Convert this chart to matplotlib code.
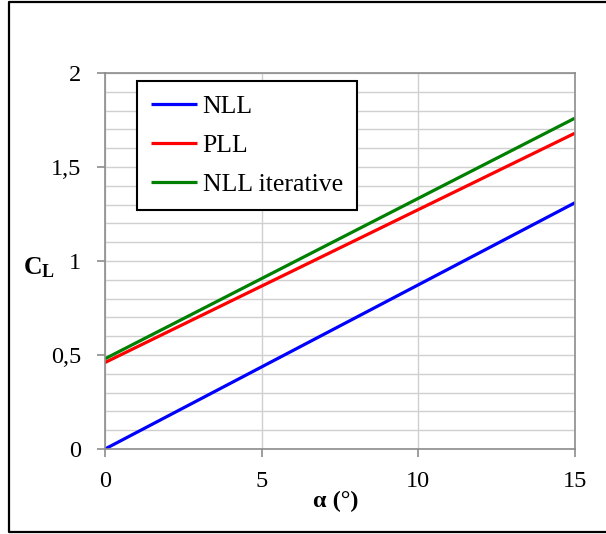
import numpy as np
import matplotlib
matplotlib.use("Agg")
import matplotlib.pyplot as plt
from matplotlib.lines import Line2D
from matplotlib.ticker import MultipleLocator, FuncFormatter

# angle of attack (deg) and lift coefficient at the ends of each line
alpha = [0, 15]
cl_nll = [0.0, 1.31]
cl_pll = [0.46, 1.68]
cl_nll_iter = [0.48, 1.76]

series = [
    ("NLL", cl_nll, "#0000ff"),
    ("PLL", cl_pll, "#ff0000"),
    ("NLL iterative", cl_nll_iter, "#008000"),
]

plt.rcParams["font.family"] = ["Liberation Serif", "DejaVu Serif"]
plt.rcParams["mathtext.fontset"] = "custom"
plt.rcParams["mathtext.rm"] = "Liberation Serif"
plt.rcParams["mathtext.bf"] = "Liberation Serif:bold"

FS = 17.5
LEG_FS = 18.5

W, H = 606, 534
fig = plt.figure(figsize=(W / 100, H / 100), dpi=100)

# outer frame (left, top and bottom edges)
fx = [W + 5, 8.5, 8.5, W + 5]
fy = [1.5, 1.5, 531.5, 531.5]
fig.lines.append(Line2D([x / W for x in fx], [1 - y / H for y in fy],
                        transform=fig.transFigure, color="black", linewidth=1.6))

ax = fig.add_axes([105 / W, (H - 449) / H, (575 - 105) / W, (449 - 73) / H])

for name, vals, col in series:
    ax.plot(alpha, vals, color=col, linewidth=2.3, label=name, solid_capstyle="butt")

ax.set_xlim(0, 15)
ax.set_ylim(0, 2)
ax.xaxis.set_major_locator(MultipleLocator(5))
ax.yaxis.set_major_locator(MultipleLocator(0.5))
ax.yaxis.set_minor_locator(MultipleLocator(0.1))
ax.yaxis.set_major_formatter(FuncFormatter(lambda v, p: f"{v:g}".replace(".", ",")))

ax.grid(True, which="both", axis="y", color="#d0d0d0", linewidth=1.0)
ax.grid(True, which="major", axis="x", color="#d0d0d0", linewidth=1.0)
ax.set_axisbelow(True)

for s in ax.spines.values():
    s.set_color("#8c8c8c")
    s.set_linewidth(1.2)

ax.tick_params(axis="both", which="major", direction="out", length=6, width=1.2,
               color="#8c8c8c", labelsize=FS)
ax.tick_params(axis="y", pad=11)
ax.tick_params(axis="x", pad=10)
ax.tick_params(axis="y", which="minor", length=0)

fig.text(39 / W, 1 - 268 / H, r"$\mathbf{C_L}$", fontsize=FS + 1, ha="center", va="center")
fig.text(336 / W, 1 - 501 / H, "α (°)", fontsize=FS, fontweight="bold",
         ha="center", va="center")

leg = ax.legend(loc="upper left", bbox_to_anchor=(137 / W, 1 - 81 / H),
                bbox_transform=fig.transFigure, fontsize=LEG_FS, frameon=True,
                fancybox=False, framealpha=1, edgecolor="black",
                handlelength=1.8, handletextpad=0.2, labelspacing=0.62,
                borderpad=0.55, borderaxespad=0)
leg.get_frame().set_linewidth(1.5)

fig.savefig("out.png", dpi=100)
